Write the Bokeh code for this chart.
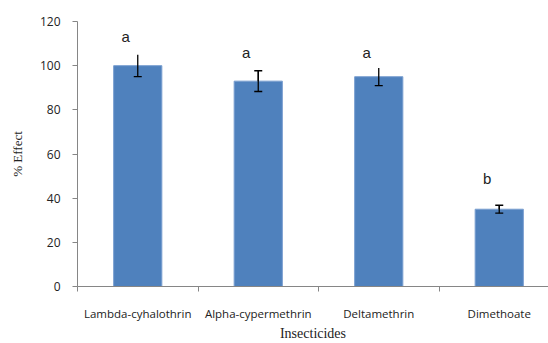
import numpy as np
from bokeh.plotting import figure
from bokeh.models import (ColumnDataSource, Range1d, FixedTicker, Whisker, TeeHead, LabelSet)
from bokeh.core.properties import value
from bokeh.embed import file_html
from bokeh.resources import INLINE

categories = ["Lambda-cyhalothrin", "Alpha-cypermethrin", "Deltamethrin", "Dimethoate"]
effect = [100, 93, 95, 35]
err = [5, 4.7, 4, 1.8]
upper_cap = [False, True, False, True]
letters = ["a", "a", "a", "b"]
letter_y = [113, 106, 106, 49]
y_ticks = [0, 20, 40, 60, 80, 100, 120]

xpos = np.arange(len(categories)) + 0.5
upper = [v + e for v, e in zip(effect, err)]
lower = [v - e for v, e in zip(effect, err)]
src = ColumnDataSource(dict(x=xpos, top=effect, upper=upper, lower=lower,
                            letter=letters, ly=letter_y))
cap_idx = [i for i, c in enumerate(upper_cap) if c]
cap_src = ColumnDataSource(dict(x=[xpos[i] for i in cap_idx],
                                upper=[upper[i] for i in cap_idx],
                                lower=[effect[i] for i in cap_idx]))

W, H = 548, 343
left, right, top, bottom = 77, 0, 21, 56
frame_w = W - left - right
cat_px = 120.5
x_end = frame_w / cat_px

p = figure(width=W, height=H, output_backend="svg", toolbar_location=None,
           x_range=Range1d(0, x_end), y_range=Range1d(0, 120),
           min_border_left=left, min_border_right=right,
           min_border_top=top, min_border_bottom=bottom)
p.outline_line_color = None
p.xgrid.visible = False
p.ygrid.visible = False

p.vbar(x="x", top="top", width=0.4, bottom=0, source=src,
       fill_color="#4F81BD", line_color="#7A9FD0", line_width=1)

p.add_layout(Whisker(base="x", upper="upper", lower="lower", source=src,
                     line_color="black", line_width=1.3, level="overlay",
                     upper_head=None,
                     lower_head=TeeHead(size=8, line_color="black", line_width=1.3)))
p.add_layout(Whisker(base="x", upper="upper", lower="lower", source=cap_src,
                     line_color="black", line_width=1.3, level="overlay",
                     upper_head=TeeHead(size=8, line_color="black", line_width=1.3),
                     lower_head=None))

p.add_layout(LabelSet(x="x", y="ly", text="letter", source=src,
                      x_offset=-12, text_align="center", text_baseline="middle",
                      text_font=value("Liberation Sans"), text_font_size=value("15px"),
                      text_color="#222222"))

# y axis
p.yaxis.ticker = FixedTicker(ticks=y_ticks)
p.yaxis.major_tick_out = 5
p.yaxis.major_tick_in = 0
p.yaxis.minor_tick_out = 0
p.yaxis.minor_tick_in = 0
p.yaxis.axis_line_color = "#868686"
p.yaxis.major_tick_line_color = "#868686"
p.yaxis.major_label_text_font = "Open Sans"
p.yaxis.major_label_text_font_size = "12px"
p.yaxis.major_label_text_color = "#222222"
p.yaxis.major_label_standoff = 12
p.yaxis.axis_label = "% Effect"
p.yaxis.axis_label_text_font = "Liberation Serif"
p.yaxis.axis_label_text_font_style = "normal"
p.yaxis.axis_label_text_font_size = "13px"
p.yaxis.axis_label_text_color = "#222222"
p.yaxis.axis_label_standoff = 12

# x axis
p.xaxis.ticker = FixedTicker(ticks=list(xpos), minor_ticks=list(range(len(categories) + 1)))
p.xaxis.major_label_overrides = {float(x): c for x, c in zip(xpos, categories)}
p.xaxis.major_tick_out = 0
p.xaxis.major_tick_in = 0
p.xaxis.minor_tick_out = 5
p.xaxis.minor_tick_in = 0
p.xaxis.minor_tick_line_color = "#868686"
p.xaxis.axis_line_color = "#868686"
p.xaxis.major_label_text_font = "Open Sans"
p.xaxis.major_label_text_font_size = "11.5px"
p.xaxis.major_label_text_color = "#222222"
p.xaxis.major_label_standoff = 14
p.xaxis.axis_label = "Insecticides"
p.xaxis.axis_label_text_font = "Liberation Serif"
p.xaxis.axis_label_text_font_style = "normal"
p.xaxis.axis_label_text_font_size = "14px"
p.xaxis.axis_label_text_color = "#222222"
p.xaxis.axis_label_standoff = 2

open("out.html", "w").write(file_html(p, INLINE))
